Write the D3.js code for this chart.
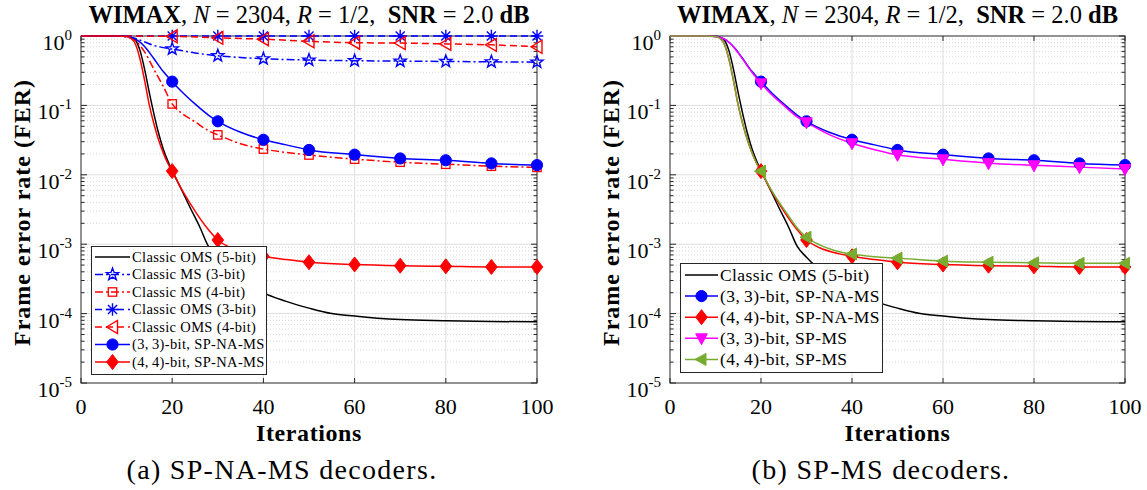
<!DOCTYPE html>
<html><head><meta charset="utf-8">
<script src="https://cdn.jsdelivr.net/npm/d3@7"></script>
<style>
body{margin:0;background:#fff}
svg{display:block}
text{font-family:"Liberation Serif","Times New Roman",serif;fill:#000}
</style>
</head><body>
<svg id="c" width="1147" height="490"></svg>
<script>
// ---------------- data ----------------
const xTicks = [0, 20, 40, 60, 80, 100];
const yExps = [0, -1, -2, -3, -4, -5];
const markerIters = [20, 30, 40, 50, 60, 70, 80, 90, 100];

// Classic OMS (5-bit)
const oms5It = [0, 8, 10, 11, 12, 13, 14, 15, 16, 17, 18, 19, 20, 22, 24, 26, 28, 30, 32, 35, 38, 40, 45, 50, 55, 60, 65, 70, 80, 90, 100];
const oms5 = [1, 1, 0.99, 0.96, 0.86, 0.6, 0.32, 0.15, 0.075, 0.04, 0.024, 0.016, 0.0115, 0.0062, 0.0033, 0.0018, 0.00092, 0.00065, 0.00048, 0.00033, 0.00024, 0.0002, 0.00015, 0.00012, 0.0001, 0.000092, 0.000086, 0.000082, 0.000079, 0.000077, 0.000076];
// Classic MS (3-bit)
const ms3It = [0, 8, 10, 12, 14, 16, 18, 20, 25, 30, 35, 40, 50, 60, 70, 80, 90, 100];
const ms3 = [1, 1, 0.98, 0.92, 0.82, 0.73, 0.68, 0.65, 0.57, 0.52, 0.49, 0.47, 0.45, 0.44, 0.435, 0.43, 0.425, 0.42];
// Classic MS (4-bit)
const ms4It = [0, 8, 10, 12, 14, 16, 18, 20, 22, 25, 28, 30, 35, 40, 45, 50, 60, 70, 80, 90, 100];
const ms4 = [1, 1, 0.97, 0.85, 0.58, 0.33, 0.19, 0.105, 0.078, 0.058, 0.043, 0.0376, 0.028, 0.0235, 0.021, 0.0193, 0.0168, 0.0152, 0.0142, 0.0133, 0.0128];
// Classic OMS (3-bit)
const oms3It = [0, 20, 30, 40, 50, 60, 70, 80, 90, 100];
const oms3 = [1, 1, 1, 1, 1, 1, 1, 1, 1, 1];
// Classic OMS (4-bit)
const oms4It = [0, 10, 15, 20, 30, 40, 50, 60, 70, 80, 90, 100];
const oms4 = [1, 1, 0.995, 0.99, 0.94, 0.9, 0.84, 0.8, 0.79, 0.77, 0.745, 0.7];
// (3,3)-bit SP-NA-MS
const na33It = [0, 9, 10, 12, 14, 16, 18, 20, 22, 25, 28, 30, 35, 40, 45, 50, 60, 70, 80, 90, 100];
const na33 = [1, 1, 0.98, 0.9, 0.7, 0.47, 0.31, 0.22, 0.16, 0.105, 0.072, 0.059, 0.041, 0.032, 0.027, 0.0228, 0.0195, 0.0172, 0.0162, 0.0146, 0.0138];
// (4,4)-bit SP-NA-MS
const na44It = [0, 8, 10, 11, 12, 13, 14, 15, 16, 17, 18, 19, 20, 22, 24, 26, 28, 30, 33, 36, 40, 45, 50, 60, 70, 80, 90, 100];
const na44 = [1, 1, 0.98, 0.92, 0.75, 0.45, 0.22, 0.1, 0.054, 0.032, 0.021, 0.0148, 0.0113, 0.0063, 0.0038, 0.0024, 0.0016, 0.00115, 0.00088, 0.00076, 0.00067, 0.0006, 0.00055, 0.00051, 0.00049, 0.00048, 0.00047, 0.00047];
// (3,3)-bit SP-MS
const sp33It = [0, 9, 10, 12, 14, 16, 18, 20, 22, 25, 28, 30, 35, 40, 45, 50, 60, 70, 80, 90, 100];
const sp33 = [1, 1, 0.98, 0.9, 0.69, 0.46, 0.3, 0.208, 0.15, 0.1, 0.068, 0.057, 0.038, 0.0285, 0.023, 0.0194, 0.0167, 0.0147, 0.0137, 0.0129, 0.0121];
// (4,4)-bit SP-MS
const sp44It = [0, 8, 10, 11, 12, 13, 14, 15, 16, 17, 18, 19, 20, 22, 24, 26, 28, 30, 33, 36, 40, 45, 50, 60, 70, 80, 90, 100];
const sp44 = [1, 1, 0.98, 0.92, 0.75, 0.45, 0.22, 0.1, 0.054, 0.032, 0.021, 0.0148, 0.0113, 0.0065, 0.004, 0.0026, 0.0017, 0.00126, 0.00097, 0.00082, 0.00072, 0.00066, 0.00063, 0.00057, 0.00055, 0.00054, 0.00053, 0.00053];

// ---------------- styling ----------------
const BLUE = "#0000ff", RED = "#ff0000", MAG = "#ff00ff", OLIVE = "#77ac30";
const DASH = "7,4", DASHDOT = "8,3,2,3";

const leftSeries = [
  {name: "Classic OMS (5-bit)", it: oms5It, v: oms5, color: "#000", dash: null, marker: null},
  {name: "Classic MS (3-bit)", it: ms3It, v: ms3, color: BLUE, dash: DASHDOT, marker: "star"},
  {name: "Classic MS (4-bit)", it: ms4It, v: ms4, color: RED, dash: DASHDOT, marker: "square"},
  {name: "Classic OMS (3-bit)", it: oms3It, v: oms3, color: BLUE, dash: DASH, marker: "asterisk"},
  {name: "Classic OMS (4-bit)", it: oms4It, v: oms4, color: RED, dash: DASH, marker: "ltriOpen"},
  {name: "(3,\u20093)-bit, SP-NA-MS", it: na33It, v: na33, color: BLUE, dash: null, marker: "circle"},
  {name: "(4,\u20094)-bit, SP-NA-MS", it: na44It, v: na44, color: RED, dash: null, marker: "diamond"}
];
const rightSeries = [
  {name: "Classic OMS (5-bit)", it: oms5It, v: oms5, color: "#000", dash: null, marker: null},
  {name: "(3,\u20093)-bit, SP-NA-MS", it: na33It, v: na33, color: BLUE, dash: null, marker: "circle"},
  {name: "(4,\u20094)-bit, SP-NA-MS", it: na44It, v: na44, color: RED, dash: null, marker: "diamond"},
  {name: "(3,\u20093)-bit, SP-MS", it: sp33It, v: sp33, color: MAG, dash: null, marker: "dtri"},
  {name: "(4,\u20094)-bit, SP-MS", it: sp44It, v: sp44, color: OLIVE, dash: null, marker: "ltri"}
];

const svg = d3.select("#c");
const AX = "#262626";

function drawMarker(g, type, x, y, color, s = 1) {
  switch (type) {
    case "circle":
      g.append("circle").attr("cx", x).attr("cy", y).attr("r", 5.6 * s).attr("fill", color).attr("stroke", color).attr("stroke-width", 1);
      break;
    case "diamond":
      g.append("path").attr("d", `M${x},${y - 7.5 * s}L${x + 5.8 * s},${y}L${x},${y + 7.5 * s}L${x - 5.8 * s},${y}Z`).attr("fill", color).attr("stroke", color);
      break;
    case "square":
      g.append("rect").attr("x", x - 4.2 * s).attr("y", y - 4.2 * s).attr("width", 8.4 * s).attr("height", 8.4 * s).attr("fill", "none").attr("stroke", color).attr("stroke-width", 1.3);
      break;
    case "star": {
      const pts = [];
      for (let k = 0; k < 10; k++) {
        const r = (k % 2 === 0 ? 6.4 : 2.6) * s;
        const a = -Math.PI / 2 + k * Math.PI / 5;
        pts.push([x + r * Math.cos(a), y + r * Math.sin(a)]);
      }
      g.append("path").attr("d", "M" + pts.map(p => p.join(",")).join("L") + "Z").attr("fill", "none").attr("stroke", color).attr("stroke-width", 1.4);
      break;
    }
    case "asterisk": {
      const r = 6.3 * s, d = r * 0.72;
      g.append("path").attr("d", `M${x - r},${y}L${x + r},${y}M${x},${y - r}L${x},${y + r}M${x - d},${y - d}L${x + d},${y + d}M${x - d},${y + d}L${x + d},${y - d}`)
        .attr("stroke", color).attr("stroke-width", 1.4).attr("fill", "none");
      break;
    }
    case "ltriOpen":
      g.append("path").attr("d", `M${x - 6 * s},${y}L${x + 5 * s},${y - 6.5 * s}L${x + 5 * s},${y + 6.5 * s}Z`).attr("fill", "none").attr("stroke", color).attr("stroke-width", 1.4);
      break;
    case "dtri":
      g.append("path").attr("d", `M${x - 5.8 * s},${y - 4.5 * s}L${x + 5.8 * s},${y - 4.5 * s}L${x},${y + 6.5 * s}Z`).attr("fill", color).attr("stroke", color);
      break;
    case "ltri":
      g.append("path").attr("d", `M${x - 6.5 * s},${y}L${x + 4.5 * s},${y - 6 * s}L${x + 4.5 * s},${y + 6 * s}Z`).attr("fill", color).attr("stroke", color);
      break;
  }
}

function panel(cfg) {
  const g = svg.append("g");
  const x = d3.scaleLinear().domain([0, 100]).range([cfg.x0, cfg.x1]);
  const y = d3.scaleLog().domain([1e-5, 1]).range([cfg.y1, cfg.y0]);

  // minor grid (dotted)
  const minors = [];
  for (let e = -5; e < 0; e++) for (let k = 2; k <= 9; k++) minors.push(k * Math.pow(10, e));
  g.append("g").selectAll("line").data(minors).join("line")
    .attr("x1", cfg.x0).attr("x2", cfg.x1).attr("y1", d => y(d)).attr("y2", d => y(d))
    .attr("stroke", "#cfcfcf").attr("stroke-width", 0.8).attr("stroke-dasharray", "1,2");
  // major grid
  g.append("g").selectAll("line").data(yExps.slice(1, 5)).join("line")
    .attr("x1", cfg.x0).attr("x2", cfg.x1).attr("y1", d => y(Math.pow(10, d))).attr("y2", d => y(Math.pow(10, d)))
    .attr("stroke", "#dedede").attr("stroke-width", 1);
  g.append("g").selectAll("line").data(xTicks.slice(1, 5)).join("line")
    .attr("x1", d => x(d)).attr("x2", d => x(d)).attr("y1", cfg.y0).attr("y2", cfg.y1)
    .attr("stroke", "#dedede").attr("stroke-width", 1);

  // box
  g.append("rect").attr("x", cfg.x0).attr("y", cfg.y0).attr("width", cfg.x1 - cfg.x0).attr("height", cfg.y1 - cfg.y0)
    .attr("fill", "none").attr("stroke", AX).attr("stroke-width", 1);

  // ticks
  const tg = g.append("g").attr("stroke", AX).attr("stroke-width", 1);
  xTicks.forEach(t => {
    tg.append("line").attr("x1", x(t)).attr("x2", x(t)).attr("y1", cfg.y1).attr("y2", cfg.y1 - 5);
    tg.append("line").attr("x1", x(t)).attr("x2", x(t)).attr("y1", cfg.y0).attr("y2", cfg.y0 + 5);
  });
  yExps.forEach(e => {
    const yy = y(Math.pow(10, e));
    tg.append("line").attr("x1", cfg.x0).attr("x2", cfg.x0 + 6).attr("y1", yy).attr("y2", yy);
    tg.append("line").attr("x1", cfg.x1).attr("x2", cfg.x1 - 6).attr("y1", yy).attr("y2", yy);
  });
  minors.forEach(m => {
    const yy = y(m);
    tg.append("line").attr("x1", cfg.x0).attr("x2", cfg.x0 + 3.5).attr("y1", yy).attr("y2", yy);
    tg.append("line").attr("x1", cfg.x1).attr("x2", cfg.x1 - 3.5).attr("y1", yy).attr("y2", yy);
  });

  // tick labels
  g.append("g").selectAll("text").data(xTicks).join("text")
    .attr("x", d => x(d)).attr("y", cfg.y1 + 31).attr("text-anchor", "middle")
    .attr("font-size", 22).text(d => d);
  yExps.forEach(e => {
    const yy = y(Math.pow(10, e));
    const t = g.append("text").attr("x", cfg.x0 - 9).attr("y", yy + 14).attr("text-anchor", "end").attr("font-size", 22);
    t.append("tspan").text("10");
    t.append("tspan").attr("dy", -10).attr("font-size", 15).text(e === 0 ? "0" : String(e));
  });

  // axis labels
  g.append("text").attr("x", (cfg.x0 + cfg.x1) / 2).attr("y", cfg.y1 + 58).attr("text-anchor", "middle")
    .attr("font-size", 24).attr("font-weight", "bold").attr("letter-spacing", 0.6).text("Iterations");
  g.append("text").attr("transform", `translate(${cfg.x0 - 51},${(cfg.y0 + cfg.y1) / 2 + 3}) rotate(-90)`)
    .attr("text-anchor", "middle").attr("font-size", 24).attr("font-weight", "bold").attr("letter-spacing", 1).text("Frame error rate (FER)");

  // title
  const tt = g.append("text").attr("x", (cfg.x0 + cfg.x1) / 2).attr("y", 23).attr("text-anchor", "middle")
    .attr("font-size", 24.5);
  tt.append("tspan").attr("font-weight", "bold").text("WIMAX");
  tt.append("tspan").text(", ");
  tt.append("tspan").attr("font-style", "italic").text("N");
  tt.append("tspan").text(" = 2304, ");
  tt.append("tspan").attr("font-style", "italic").text("R");
  tt.append("tspan").text(" = 1/2,\u00a0\u00a0");
  tt.append("tspan").attr("font-weight", "bold").text("SNR");
  tt.append("tspan").text(" = 2.0 ");
  tt.append("tspan").attr("font-weight", "bold").text("dB");

  // caption
  g.append("text").attr("x", cfg.capX).attr("y", 479).attr("text-anchor", "middle")
    .attr("font-size", 28).attr("letter-spacing", 1.3).text(cfg.caption);

  // series
  const line = d3.line().x(d => x(d[0])).y(d => y(d[1])).curve(d3.curveMonotoneX);
  cfg.series.forEach(s => {
    const pts = s.it.map((t, i) => [t, s.v[i]]);
    g.append("path").attr("d", line(pts)).attr("fill", "none").attr("stroke", s.color)
      .attr("stroke-width", 1.5).attr("stroke-dasharray", s.dash);
  });
  cfg.series.forEach(s => {
    if (!s.marker) return;
    const mg = g.append("g");
    markerIters.forEach(m => {
      const i = s.it.indexOf(m);
      drawMarker(mg, s.marker, x(m), y(s.v[i]), s.color);
    });
  });

  // legend
  const L = cfg.legend;
  const lg = g.append("g");
  lg.append("rect").attr("x", L.x).attr("y", L.y).attr("width", L.w).attr("height", L.h)
    .attr("fill", "#fff").attr("stroke", AX).attr("stroke-width", 1);
  cfg.series.forEach((s, i) => {
    const yy = L.row0 + i * L.step;
    lg.append("line").attr("x1", L.lx0).attr("x2", L.lx1).attr("y1", yy).attr("y2", yy)
      .attr("stroke", s.color).attr("stroke-width", 1.5).attr("stroke-dasharray", s.dash);
    if (s.marker) drawMarker(lg, s.marker, (L.lx0 + L.lx1) / 2, yy, s.color);
    lg.append("text").attr("x", L.tx).attr("y", yy + L.fs * 0.33).attr("font-size", L.fs)
      .attr("letter-spacing", L.ls).text(s.name);
  });
}

panel({
  x0: 81, x1: 537, y0: 36, y1: 383, series: leftSeries,
  caption: "(a) SP-NA-MS decoders.", capX: 282,
  legend: {x: 91.5, y: 246.5, w: 175, h: 128, row0: 257, step: 17.5, lx0: 95, lx1: 130, tx: 132, fs: 14.5, ls: 0.35}
});
panel({
  x0: 670, x1: 1125, y0: 36, y1: 383, series: rightSeries,
  caption: "(b) SP-MS decoders.", capX: 881,
  legend: {x: 680.5, y: 263.5, w: 202, h: 109, row0: 275, step: 21.1, lx0: 685, lx1: 718, tx: 720, fs: 17.5, ls: 0.4}
});
</script>
</body></html>
